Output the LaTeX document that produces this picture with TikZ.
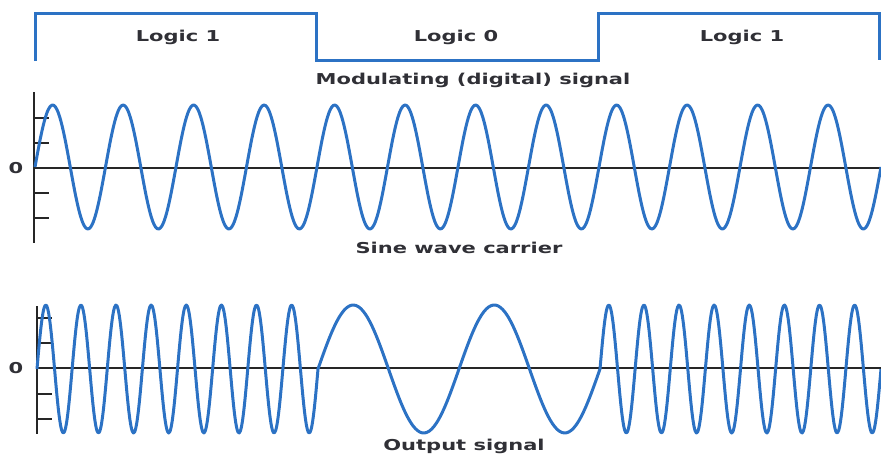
\documentclass[tikz,border=0pt]{standalone}
\usepackage{fontspec}
\setmainfont{DejaVu Sans}
\usetikzlibrary{positioning}
\definecolor{sigblue}{RGB}{44,114,196}
\definecolor{labelgray}{RGB}{48,48,54}

\begin{document}
\begin{tikzpicture}[
    x=1pt, y=-1pt,
    wave/.style={
        draw=sigblue,
        line width=3pt,
        line join=round
    },
    axis/.style={
        draw=black!85,
        line width=1.2pt
    },
    yaxis/.style={
        draw=black!85,
        line width=2pt
    },
    caption/.style={
        text=labelgray,
        font=\bfseries\fontsize{15}{18}\selectfont,
        xscale=1.4,
        anchor=base,
        inner sep=0pt
    }
]
    \useasboundingbox (0,0) rectangle (881,455);

    % Modulating signal
    \draw [wave, line join=miter] (35,61) -- (35,13) -- (316,13) -- (316,60)
        -- (598,60) -- (598,13) -- (879.5,13) -- (879.5,60);
    \node [caption] (logicA) at (178,41.5) {Logic 1};
    \node [caption] (logicB) at (456,41.5) {Logic 0};
    \node [caption] (logicC) at (742,41.5) {Logic 1};
    \node [caption] (modlabel) at (473,84) {Modulating (digital) signal};

    % Carrier
    \draw [yaxis] (34,92) -- (34,243);
    \draw [axis] (34,168) -- (881,168);
    \foreach \ty in {118,143,193,218}
        \draw [axis] (34,\ty) -- (49,\ty);
    \node [caption] (zeroA) at (16,173.5) {0};
    \draw [wave] plot [domain=35:881, samples=500, smooth]
        (\x, {167-62*sin((\x-35)/70.5*360)});
    \node [caption] (carrierlabel) at (459,253) {Sine wave carrier};

    % Output
    \draw [yaxis] (37,306) -- (37,434);
    \draw [axis] (37,368) -- (881,368);
    \foreach \ty in {318,343,394,419}
        \draw [axis] (37,\ty) -- (52,\ty);
    \node [caption] (zeroB) at (16,373.5) {0};
    \draw [wave] plot [domain=37:318, samples=240, smooth]
            (\x, {369-64*sin((\x-37)/35.125*360)})
        -- plot [domain=318:600, samples=120, smooth]
            (\x, {369-64*sin((\x-318)/141*360)})
        -- plot [domain=600:881, samples=240, smooth]
            (\x, {369-64*sin((\x-600)/35.125*360)});
    \node [caption] (outlabel) at (464,450) {Output signal};
\end{tikzpicture}
\end{document}
